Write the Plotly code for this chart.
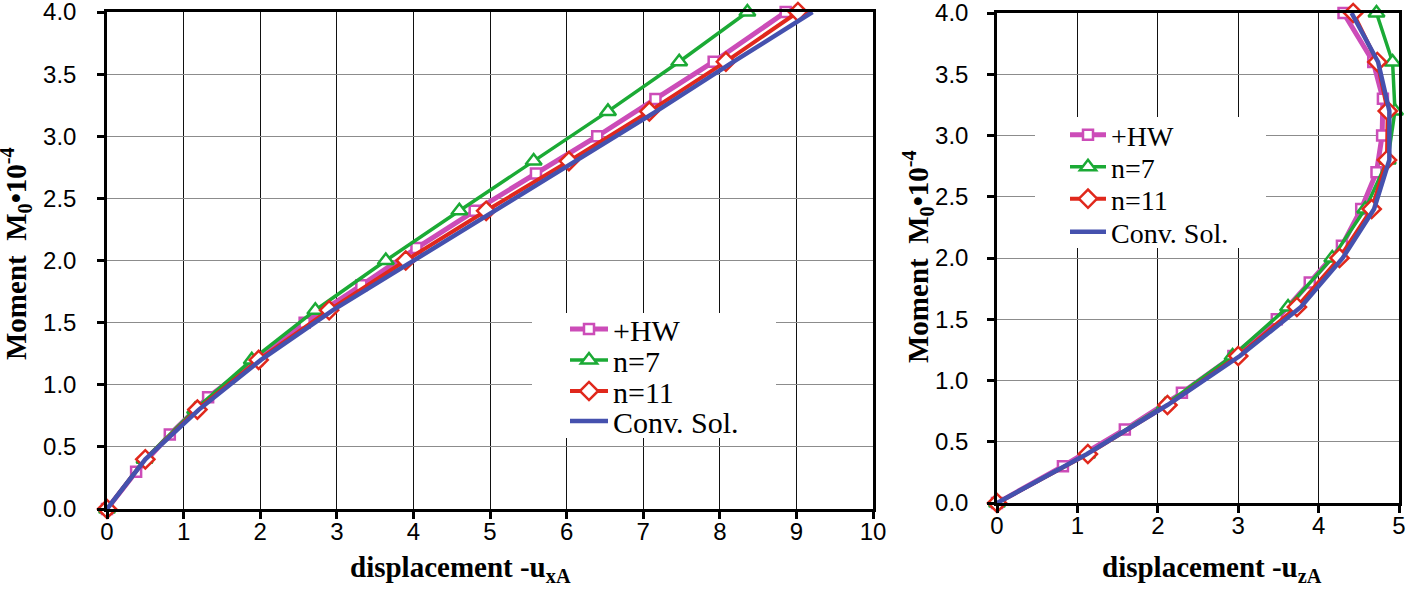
import plotly.graph_objects as go

# ---------------- data (left: -u_xA) ----------------
m_hw = [0, 0.3, 0.6, 0.9, 1.2, 1.5, 1.8, 2.1, 2.4, 2.7, 3.0, 3.3, 3.6, 4.0]
m_n = [0, 0.4, 0.8, 1.2, 1.6, 2.0, 2.4, 2.8, 3.2, 3.6, 4.0]

ux_hw = [0, 0.38, 0.82, 1.32, 1.96, 2.58, 3.32, 4.04, 4.80, 5.60, 6.40, 7.16, 7.92, 8.86]
ux_n7 = [0, 0.49, 1.15, 1.89, 2.72, 3.64, 4.60, 5.57, 6.54, 7.47, 8.36]
ux_n11 = [0, 0.50, 1.18, 1.98, 2.90, 3.90, 4.95, 6.03, 7.08, 8.08, 9.02]
ux_conv = [0, 0.50, 1.20, 2.01, 2.95, 4.01, 5.06, 6.12, 7.17, 8.18, 9.21]

# ---------------- data (right: -u_zA) ----------------
uz_hw = [0, 0.82, 1.59, 2.30, 2.94, 3.48, 3.89, 4.29, 4.53, 4.72, 4.79, 4.80, 4.68, 4.31]
uz_n7 = [0, 1.12, 2.09, 2.93, 3.62, 4.17, 4.58, 4.86, 4.95, 4.92, 4.72]
uz_n11 = [0, 1.13, 2.12, 3.00, 3.73, 4.26, 4.66, 4.85, 4.86, 4.73, 4.43]
uz_conv = [0, 1.12, 2.12, 3.02, 3.78, 4.30, 4.69, 4.88, 4.88, 4.74, 4.41]

names = ["+HW", "n=7", "n=11", "Conv. Sol."]
colors = ["#CC4CB8", "#1BAA35", "#E0281C", "#4551AE"]

W, H = 1427, 591
# plot area in page pixel coordinates
PL, PR, PT, PB = 107, 1399, 12, 509
ML, MR, MT, MB = PL, W - PR, PT, H - PB
PW, PH = PR - PL, PB - PT


def px(x):
    return (x - PL) / PW


def py(y):
    return (PB - y) / PH


fig = go.Figure()

legend_ids_left = ["legend", "legend2", "legend3", "legend4"]
legend_ids_right = ["legend5", "legend6", "legend7", "legend8"]


def add_set(xs, ax, ay, legs):
    specs = [
        (xs[0], m_hw, dict(symbol="square", size=10), 5),
        (xs[1], m_n, dict(symbol="triangle-up", size=14), 3.5),
        (xs[2], m_n, dict(symbol="diamond", size=14), 4),
        (xs[3], m_n, None, 4.5),
    ]
    for i, (x, y, mk, lw) in enumerate(specs):
        tr = dict(
            x=x, y=y, name=names[i], xaxis=ax, yaxis=ay, legend=legs[i],
            line=dict(color=colors[i], width=lw), cliponaxis=False,
        )
        if mk is not None:
            tr["mode"] = "lines+markers"
            tr["marker"] = dict(symbol=mk["symbol"], size=mk["size"], color="white",
                                line=dict(color=colors[i], width=2.5))
        else:
            tr["mode"] = "lines"
        fig.add_trace(go.Scatter(**tr))


add_set([ux_hw, ux_n7, ux_n11, ux_conv], "x", "y", legend_ids_left)
add_set([uz_hw, uz_n7, uz_n11, uz_conv], "x2", "y2", legend_ids_right)

tickfont = dict(family="Liberation Sans, Arial", size=24, color="black")
common_axis = dict(
    showline=True, linecolor="black", linewidth=2.5, mirror=True,
    ticks="outside", ticklen=7, tickwidth=2.5, tickcolor="black",
    tickfont=tickfont, zeroline=False, showgrid=True, automargin=False,
    ticklabeloverflow="allow",
)

layout = dict(
    width=W, height=H,
    margin=dict(l=ML, r=MR, t=MT, b=MB, autoexpand=False),
    paper_bgcolor="white", plot_bgcolor="white",
    showlegend=True,
    xaxis=dict(domain=[0, px(873)], range=[0, 10], dtick=1, anchor="y",
               gridcolor="#111111", gridwidth=1, ticklabelstandoff=-8, **common_axis),
    yaxis=dict(domain=[0, 1], range=[0, 4], dtick=0.5, tickformat=".1f", anchor="x",
               gridcolor="#8c8c8c", gridwidth=1, ticklabelstandoff=16, **common_axis),
    xaxis2=dict(domain=[px(997), 1], range=[0, 5], dtick=1, anchor="y2",
                gridcolor="#111111", gridwidth=1, ticklabelstandoff=-8, **common_axis),
    yaxis2=dict(domain=[py(503), py(13)], range=[0, 4], dtick=0.5, tickformat=".1f",
                anchor="x2", gridcolor="#8c8c8c", gridwidth=1, ticklabelstandoff=14,
                **common_axis),
)

# one legend per entry so that the spacing matches the reference
left_centres = [329, 360, 391, 421]
right_centres = [135, 167, 199, 232]
for lid, yc in zip(legend_ids_left, left_centres):
    layout[lid] = dict(
        x=px(565), y=py(yc), xanchor="left", yanchor="middle",
        bgcolor="rgba(0,0,0,0)", borderwidth=0, itemwidth=38,
        font=dict(family="Liberation Serif, Times New Roman", size=30, color="black"),
    )
for lid, yc in zip(legend_ids_right, right_centres):
    layout[lid] = dict(
        x=px(1065), y=py(yc), xanchor="left", yanchor="middle",
        bgcolor="rgba(0,0,0,0)", borderwidth=0, itemwidth=36,
        font=dict(family="Liberation Serif, Times New Roman", size=28, color="black"),
    )

fig.update_layout(**layout)

# white boxes behind the legends (cover the grid as in the reference)
for (x0, x1, y0, y1) in [(532, 776, 313, 438), (1035, 1266, 117, 248)]:
    fig.add_shape(type="rect", xref="paper", yref="paper",
                  x0=px(x0), x1=px(x1), y0=py(y1), y1=py(y0),
                  fillcolor="white", line=dict(width=0), layer="above")

title_font = dict(family="Liberation Serif, Times New Roman", size=29, color="black")
ann = [
    dict(text="<b>displacement -u<sub>xA</sub></b>", x=px(460), y=py(569)),
    dict(text="<b>displacement -u<sub>zA</sub></b>", x=px(1212), y=py(569)),
    dict(text="<b>Moment  M<sub>0</sub>•10<sup>-4</sup></b>", x=px(16), y=py(254), textangle=-90),
    dict(text="<b>Moment  M<sub>0</sub>•10<sup>-4</sup></b>", x=px(918), y=py(257), textangle=-90),
]
for a in ann:
    fig.add_annotation(xref="paper", yref="paper", showarrow=False,
                       xanchor="center", yanchor="middle", font=title_font, **a)

fig.write_html("out.html",
               config={"displayModeBar": False},
               post_script="document.body.style.margin='0px';"
                           "document.body.style.overflow='hidden';")
